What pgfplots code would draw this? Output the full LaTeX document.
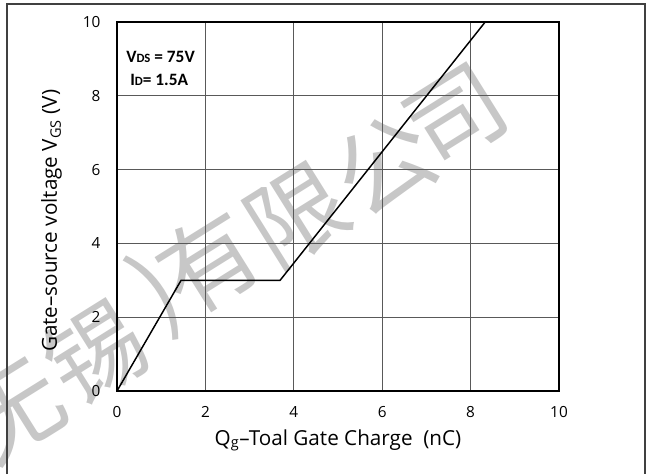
\documentclass[border=0pt]{standalone}
\usepackage{pgfplots}
\pgfplotsset{compat=1.18}
\usepackage{fontspec}
\setmainfont{Open Sans}
\newfontfamily\calfont{Carlito}
\newfontfamily\cjk{Noto Sans CJK SC}
\begin{document}
\begin{tikzpicture}
\begin{scope}[x=0.75pt,y=0.75pt]
\path[use as bounding box] (0,0) rectangle (649,474);
\foreach \c/\xx/\yy in {无/15/412, 锡/95/352, )/158/294, 有/208/262, 限/297/216, 公/385/165, 司/457/117} {
  \node[rotate=32, text=black!22, font=\cjk\fontsize{73}{73}\selectfont, inner sep=0] at (\xx,474-\yy) {\c};
}
\end{scope}
\begin{axis}[
  at={(87.75pt,62.25pt)}, anchor=south west,
  scale only axis, width=331.5pt, height=276.75pt,
  xmin=0, xmax=10, ymin=0, ymax=10,
  xtick={0,2,4,6,8,10}, ytick={0,2,4,6,8,10},
  grid=major,
  major grid style={draw=black!65, line width=0.7pt},
  axis line style={line width=1.1pt},
  major tick length=0pt,
  /pgf/number format/assume math mode=true,
  tick label style={font=\fontsize{11.5}{11.5}\selectfont},
  xticklabel style={yshift=-8pt},
  yticklabel style={xshift=-9pt},
  label style={font=\fontsize{15.5}{15.5}\selectfont},
  xlabel={Q\textsubscript{g}–Toal Gate Charge\ \ (nC)},
  xlabel style={at={(axis description cs:0.5,0)}, anchor=base, yshift=-40.5pt},
  ylabel={Gate–source voltage V\textsubscript{GS} (V)},
  ylabel style={at={(axis description cs:0,0.461)}, anchor=base, yshift=45pt},
]
\addplot[black, line width=1.1pt] coordinates {(0,0) (1.45,3) (3.69,3) (8.33,10)};
\end{axis}
\begin{scope}[x=0.75pt,y=0.75pt]
\node[anchor=base west, inner sep=0, font=\calfont\bfseries\fontsize{13}{13}\selectfont] at (126,474-63) {V{\fontsize{9.5}{9.5}\selectfont DS} = 75V};
\node[anchor=base west, inner sep=0, font=\calfont\bfseries\fontsize{13}{13}\selectfont] at (130,474-86) {I{\fontsize{9.5}{9.5}\selectfont D}= 1.5A};
\draw[black!75, line width=1.1pt] (7,0) -- (7,470) -- (645,470) -- (645,0);
\end{scope}
\end{tikzpicture}
\end{document}
